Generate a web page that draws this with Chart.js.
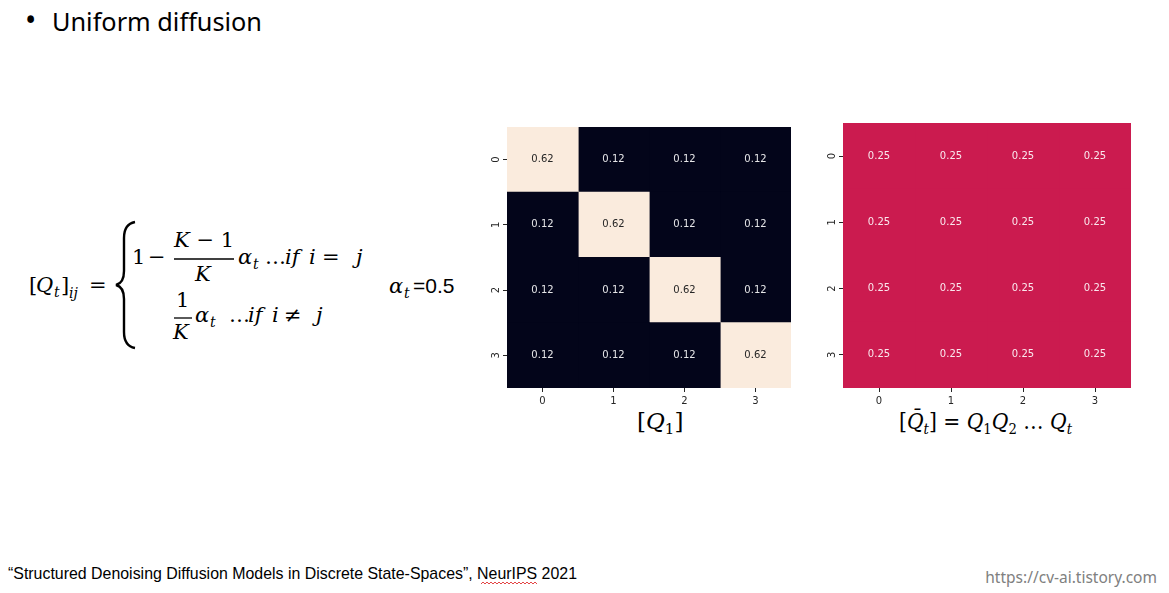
<!DOCTYPE html>
<html>
<head>
<meta charset="utf-8">
<script src="https://cdn.jsdelivr.net/npm/chart.js@4.4.1/dist/chart.umd.min.js"></script>
<style>
  html, body { margin: 0; padding: 0; background: #fff; }
  body { width: 1169px; height: 593px; position: relative; overflow: hidden; }
  svg { position: absolute; left: 0; top: 0; }
  .box { position: absolute; }
</style>
</head>
<body>
<svg width="1169" height="593">
  <!-- title -->
  <text x="25" y="31" font-family="Noto Sans" font-size="30">•</text>
  <text x="52" y="31" font-family="Noto Sans" font-size="26" textLength="210" lengthAdjust="spacingAndGlyphs">Uniform diffusion</text>

  <!-- formula -->
  <g font-family="DejaVu Serif, Liberation Serif, serif" font-size="21" fill="#000">
    <text x="29" y="292">[</text>
    <text x="36" y="292" font-style="italic">Q</text>
    <text x="54" y="297" font-style="italic" font-size="14">t</text>
    <text x="61" y="292">]</text>
    <text x="69" y="298" font-style="italic" font-size="14">ij</text>
    <text x="89" y="292">=</text>
    <path d="M135 222 Q124 224 124 238 L124 271 Q124 283 116 285 Q124 287 124 299 L124 332 Q124 346 135 348" fill="none" stroke="#000" stroke-width="2.4"/>

    <text x="132" y="264">1</text>
    <text x="148" y="264">−</text>
    <text x="174" y="247"><tspan font-style="italic">K</tspan> − 1</text>
    <line x1="174" y1="259" x2="234" y2="259" stroke="#000" stroke-width="1.3"/>
    <text x="195" y="281" font-style="italic">K</text>
    <text x="238" y="264" font-style="italic">α</text>
    <text x="253" y="269" font-style="italic" font-size="14">t</text>
    <text x="265" y="264">…</text>
    <text x="285" y="264" font-style="italic">if</text>
    <text x="309" y="264" font-style="italic">i</text>
    <text x="322" y="264">=</text>
    <text x="356" y="264" font-style="italic">j</text>

    <text x="176" y="307">1</text>
    <line x1="174" y1="318" x2="192" y2="318" stroke="#000" stroke-width="1.3"/>
    <text x="173" y="339" font-style="italic">K</text>
    <text x="195" y="322" font-style="italic">α</text>
    <text x="210" y="327" font-style="italic" font-size="14">t</text>
    <text x="229" y="322">…</text>
    <text x="248" y="322" font-style="italic">if</text>
    <text x="272" y="322" font-style="italic">i</text>
    <text x="284" y="322">≠</text>
    <text x="316" y="322" font-style="italic">j</text>

    <text x="389" y="293" font-style="italic">α</text>
    <text x="404" y="298" font-style="italic" font-size="14">t</text>
    <text x="413" y="293" font-family="Liberation Sans" font-size="21">=0.5</text>
  </g>

  <!-- heatmap captions -->
  <g font-family="DejaVu Serif, Liberation Serif, serif" font-size="23" fill="#000">
    <text x="637" y="429">[<tspan font-style="italic">Q</tspan><tspan font-size="15" dy="5">1</tspan><tspan dy="-5">]</tspan></text>
    <text x="899" y="429" textLength="173" lengthAdjust="spacingAndGlyphs">[<tspan font-style="italic">Q̄</tspan><tspan font-style="italic" font-size="15" dy="5">t</tspan><tspan dy="-5">] = </tspan><tspan font-style="italic">Q</tspan><tspan font-size="15" dy="5">1</tspan><tspan font-style="italic" dy="-5">Q</tspan><tspan font-size="15" dy="5">2</tspan><tspan dy="-5"> … </tspan><tspan font-style="italic">Q</tspan><tspan font-style="italic" font-size="15" dy="5">t</tspan></text>
  </g>

  <!-- footnote & watermark -->
  <text x="8" y="579" font-family="Liberation Sans" font-size="17" textLength="569" lengthAdjust="spacingAndGlyphs">“Structured Denoising Diffusion Models in Discrete State-Spaces”, NeurIPS 2021</text>
  <path d="M481 584 l2 -2 l2 2 l2 -2 l2 2 l2 -2 l2 2 l2 -2 l2 2 l2 -2 l2 2 l2 -2 l2 2 l2 -2 l2 2 l2 -2 l2 2 l2 -2 l2 2 l2 -2 l2 2 l2 -2 l2 2 l2 -2 l2 2 l2 -2 l2 2 l2 -2 l2 2" fill="none" stroke="#e03030" stroke-width="0.9"/>
  <text x="1157" y="583" text-anchor="end" font-family="Noto Sans" font-size="15.5" fill="#808080">https://cv-ai.tistory.com</text>
</svg>

<div class="box" style="left:480px;top:118px;width:311px;height:295px"><canvas id="c1"></canvas></div>
<div class="box" style="left:816px;top:114px;width:315px;height:299px"><canvas id="c2"></canvas></div>

<script>
var rows = ["0", "1", "2", "3"];
var cols = ["0", "1", "2", "3"];

// Q_1 with alpha_t = 0.5, K = 4
var q1 = [
  [0.62, 0.12, 0.12, 0.12],
  [0.12, 0.62, 0.12, 0.12],
  [0.12, 0.12, 0.62, 0.12],
  [0.12, 0.12, 0.12, 0.62]
];
// cumulative product Q_1 Q_2 ... Q_t
var qbar = [
  [0.25, 0.25, 0.25, 0.25],
  [0.25, 0.25, 0.25, 0.25],
  [0.25, 0.25, 0.25, 0.25],
  [0.25, 0.25, 0.25, 0.25]
];

// rough "rocket" colormap
var rocket = [[3, 5, 26], [112, 31, 87], [203, 27, 79], [243, 118, 81], [250, 235, 221]];

function cmap(t) {
  var p = t * (rocket.length - 1);
  var k = Math.min(Math.floor(p), rocket.length - 2);
  var f = p - k, a = rocket[k], b = rocket[k + 1];
  return [0, 1, 2].map(function(c) { return Math.round(a[c] + (b[c] - a[c]) * f); });
}

function colorsFor(m) {
  var all = [].concat.apply([], m);
  var lo = Math.min.apply(null, all), hi = Math.max.apply(null, all);
  return m.map(function(row) {
    return row.map(function(v) { return cmap(hi === lo ? 0.5 : (v - lo) / (hi - lo)); });
  });
}

function lum(rgb) {
  var c = rgb.map(function(x) {
    x = x / 255;
    return x <= 0.03928 ? x / 12.92 : Math.pow((x + 0.055) / 1.055, 2.4);
  });
  return 0.2126 * c[0] + 0.7152 * c[1] + 0.0722 * c[2];
}

var cellText = {
  id: "cellText",
  afterDatasetsDraw: function(chart, args, opts) {
    var ctx = chart.ctx;
    ctx.save();
    ctx.font = "10px 'DejaVu Sans'";
    ctx.textAlign = "center";
    ctx.textBaseline = "middle";
    chart.data.datasets.forEach(function(ds, j) {
      chart.getDatasetMeta(j).data.forEach(function(bar, i) {
        var p = bar.getCenterPoint();
        ctx.fillStyle = lum(opts.rgb[i][j]) > 0.408 ? "#262626" : "rgba(255,255,255,0.9)";
        ctx.fillText(opts.matrix[i][j].toFixed(2), p.x, p.y);
      });
    });
    ctx.restore();
  }
};

function heatmap(id, m, yWidth) {
  var rgb = colorsFor(m);
  var datasets = cols.map(function(c, j) {
    return {
      label: c,
      data: rows.map(function() { return 1; }),
      backgroundColor: rows.map(function(r, i) { return "rgb(" + rgb[i][j].join(",") + ")"; }),
      borderWidth: 0,
      inflateAmount: 0.6,
      barPercentage: 1,
      categoryPercentage: 1
    };
  });
  var tickFont = { family: "DejaVu Sans", size: 10 };
  var grid = { display: true, drawOnChartArea: false, drawTicks: true, tickLength: 4, tickColor: "#262626", tickWidth: 1, offset: false };
  return new Chart(document.getElementById(id), {
    type: "bar",
    data: { labels: rows, datasets: datasets },
    options: {
      indexAxis: "y",
      responsive: true,
      maintainAspectRatio: false,
      animation: false,
      layout: { padding: 0 },
      plugins: {
        legend: { display: false },
        tooltip: { enabled: false },
        cellText: { matrix: m, rgb: rgb }
      },
      scales: {
        x: {
          type: "linear", min: 0, max: 4, stacked: true,
          afterBuildTicks: function(s) { s.ticks = cols.map(function(c, k) { return { value: k + 0.5 }; }); },
          ticks: { callback: function(v) { return cols[Math.floor(v)]; }, color: "#262626", font: tickFont, padding: 3, maxRotation: 0, autoSkip: false },
          grid: grid,
          border: { display: false },
          afterFit: function(s) { s.height = 25; }
        },
        y: {
          type: "category", stacked: true, offset: true,
          ticks: { minRotation: 90, maxRotation: 90, crossAlign: "center", color: "#262626", font: tickFont, padding: 3, autoSkip: false },
          grid: grid,
          border: { display: false },
          afterFit: function(s) { s.width = yWidth; }
        }
      }
    },
    plugins: [cellText]
  });
}

heatmap("c1", q1, 27);
heatmap("c2", qbar, 27);
</script>
</body>
</html>
